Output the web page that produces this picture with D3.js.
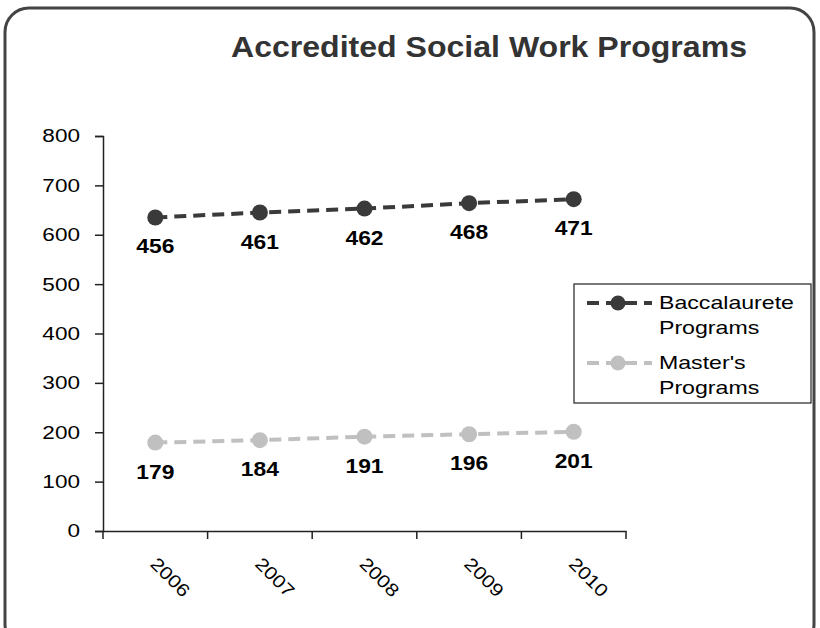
<!DOCTYPE html>
<html>
<head>
<meta charset="utf-8">
<script src="https://cdn.jsdelivr.net/npm/d3@7"></script>
<style>
  body { margin: 0; background: #fff; }
  svg { display: block; font-family: Arial, "Liberation Sans", sans-serif; }
</style>
</head>
<body>
<script>
var width = 820, height = 628;

// values shown on the chart (the series are drawn stacked)
var years = ["2006", "2007", "2008", "2009", "2010"];
var masters = [179, 184, 191, 196, 201];
var baccalaureate = [456, 461, 462, 468, 471];
var yTicks = [0, 100, 200, 300, 400, 500, 600, 700, 800];

// the original picture is a bit stretched sideways
var sx = 1.22;

var svg = d3.select("body").append("svg")
    .attr("width", width)
    .attr("height", height);

// outer rounded frame
svg.append("rect")
    .attr("x", 5).attr("y", 8)
    .attr("width", 809).attr("height", 640)
    .attr("rx", 24).attr("ry", 24)
    .attr("fill", "#fff")
    .attr("stroke", "#444")
    .attr("stroke-width", 3);

svg.append("text")
    .attr("x", 489).attr("y", 57)
    .attr("text-anchor", "middle")
    .attr("font-size", 29)
    .attr("font-weight", "bold")
    .attr("fill", "#333")
    .attr("textLength", 516)
    .attr("lengthAdjust", "spacingAndGlyphs")
    .text("Accredited Social Work Programs");

var x = d3.scaleBand().domain(years).range([103, 626]);
var y = d3.scaleLinear().domain([0, 800]).range([531, 136]);

var rows = years.map(function(yr, i) {
    return { year: yr, masters: masters[i], bacc: baccalaureate[i] };
});
var stacked = d3.stack().keys(["masters", "bacc"])(rows);

var series = [
    { name: ["Master's", "Programs"], color: "#c0c0c0", layer: stacked[0], raw: masters },
    { name: ["Baccalaurete", "Programs"], color: "#3a3a3a", layer: stacked[1], raw: baccalaureate }
];

// axes
var yAxis = svg.append("g")
    .attr("transform", "translate(103,0)")
    .call(d3.axisLeft(y).tickValues(yTicks).tickSize(8).tickPadding(15));
yAxis.selectAll("text")
    .attr("font-size", 18.5)
    .attr("fill", "#000")
    .attr("font-family", "Arial, sans-serif")
    .attr("x", -23 / sx)
    .attr("transform", "scale(" + sx + ",1)");

var xAxis = svg.append("g")
    .attr("transform", "translate(0,531)")
    .call(d3.axisBottom(x).tickSize(0).tickFormat(""));
xAxis.selectAll(".domain").attr("stroke", "#222").attr("stroke-width", 1.5);
yAxis.selectAll(".domain").attr("stroke", "#222").attr("stroke-width", 1.5);
yAxis.selectAll(".tick line").attr("stroke", "#222").attr("stroke-width", 1.5);

// x tick marks at band edges
var edges = years.map(function(d) { return x(d); }).concat([x.range()[1]]);
svg.append("g").selectAll("line")
    .data(edges)
    .enter().append("line")
    .attr("x1", function(d) { return d; })
    .attr("x2", function(d) { return d; })
    .attr("y1", 531).attr("y2", 539)
    .attr("stroke", "#222").attr("stroke-width", 1.5);

// rotated year labels
svg.append("g").selectAll("text")
    .data(years)
    .enter().append("text")
    .attr("transform", function(d) {
        return "translate(" + (x(d) + x.bandwidth() / 2 - 6) + ",565) rotate(45)";
    })
    .attr("font-size", 18)
    .attr("fill", "#000")
    .attr("textLength", 47)
    .attr("lengthAdjust", "spacingAndGlyphs")
    .text(function(d) { return d; });

var cx = function(d) { return x(d.data.year) + x.bandwidth() / 2; };
var line = d3.line()
    .x(cx)
    .y(function(d) { return y(d[1]); });

series.forEach(function(s) {
    var g = svg.append("g");
    g.append("path")
        .datum(s.layer)
        .attr("d", line)
        .attr("fill", "none")
        .attr("stroke", s.color)
        .attr("stroke-width", 4)
        .attr("stroke-dasharray", "12,7");
    g.selectAll("circle")
        .data(s.layer)
        .enter().append("circle")
        .attr("cx", cx)
        .attr("cy", function(d) { return y(d[1]); })
        .attr("r", 8)
        .attr("fill", s.color);
    g.selectAll("text")
        .data(s.layer)
        .enter().append("text")
        .attr("x", function(d) { return cx(d) / 1.17; })
        .attr("y", function(d) { return y(d[1]) + 36; })
        .attr("transform", "scale(1.17,1)")
        .attr("text-anchor", "middle")
        .attr("font-size", 19.5)
        .attr("font-weight", "bold")
        .attr("fill", "#000")
        .text(function(d, i) { return s.raw[i]; });
});

// legend
var legend = svg.append("g");
legend.append("rect")
    .attr("x", 574).attr("y", 284)
    .attr("width", 237).attr("height", 119)
    .attr("fill", "#fff")
    .attr("stroke", "#222")
    .attr("stroke-width", 1.2);

var legendItems = [series[1], series[0]];
legendItems.forEach(function(s, i) {
    var ly = 303 + i * 60;
    legend.append("line")
        .attr("x1", 587).attr("x2", 652)
        .attr("y1", ly).attr("y2", ly)
        .attr("stroke", s.color)
        .attr("stroke-width", 4)
        .attr("stroke-dasharray", "12,7");
    legend.append("circle")
        .attr("cx", 618).attr("cy", ly).attr("r", 7.5)
        .attr("fill", s.color);
    s.name.forEach(function(t, j) {
        legend.append("text")
            .attr("x", 659 / 1.25).attr("y", ly + 6 + j * 25)
            .attr("transform", "scale(1.25,1)")
            .attr("font-size", 18.5)
            .attr("fill", "#000")
            .text(t);
    });
});
</script>
</body>
</html>
